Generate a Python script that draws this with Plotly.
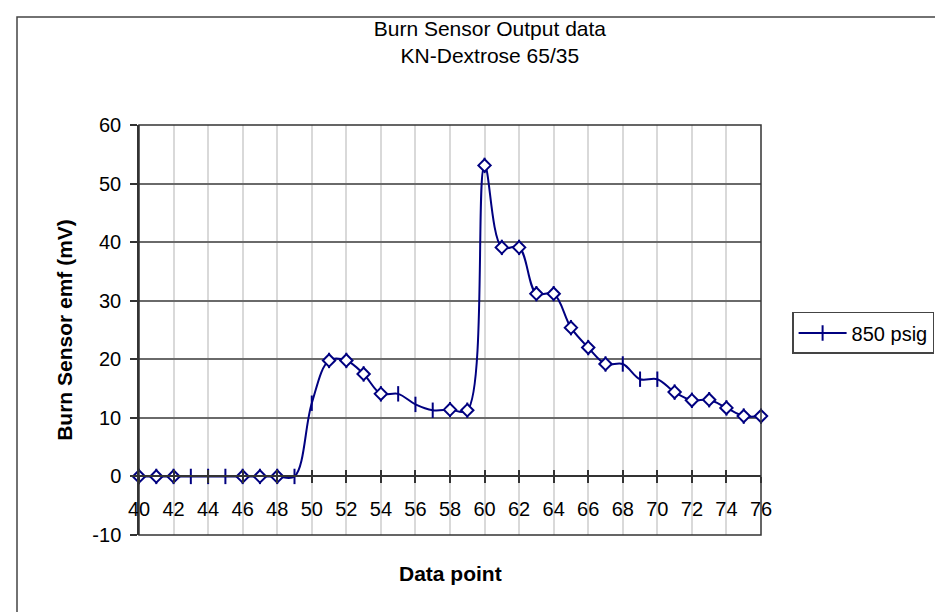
import plotly.graph_objects as go

# ---- data ----
data_point = list(range(40, 77))
emf_mv = [0, 0, 0, 0, 0, 0, 0, 0, 0, 0,
          12.5, 19.8, 19.8, 17.5, 14.1, 14.1, 12.3, 11.3, 11.4, 11.3,
          53.1, 39.1, 39.1, 31.2, 31.2, 25.4, 22.0, 19.2, 19.2, 16.6,
          16.6, 14.4, 13.0, 13.1, 11.7, 10.3, 10.3]
# marker style per point: D = open diamond, T = vertical tick
marker_kind = list("DDD" "TTT" "DDD" "TT" "DDDD" "TTT" "DDDDDDDDDD" "TTT" "DDDDDD")
series_name = "850 psig"
x_ticks = list(range(40, 77, 2))
y_ticks = list(range(-10, 61, 10))
y_tick_text = ["-10", "0", "10", "20", "30", "40", "50", "60"]

NAVY = "#000080"
FONT = "Liberation Sans, Arial, sans-serif"

diam_x = [x for x, k in zip(data_point, marker_kind) if k == "D"]
diam_y = [y for y, k in zip(emf_mv, marker_kind) if k == "D"]

fig = go.Figure()
fig.add_trace(go.Scatter(
    x=data_point, y=emf_mv, name=series_name, mode="lines+markers",
    line=dict(color=NAVY, width=2, shape="spline", smoothing=1),
    marker=dict(symbol="line-ns", size=11, color=NAVY,
                line=dict(color=NAVY, width=2)),
    cliponaxis=False,
))
fig.add_trace(go.Scatter(
    x=diam_x, y=diam_y, mode="markers", showlegend=False,
    marker=dict(symbol="diamond", size=9.5, color="white",
                line=dict(color=NAVY, width=2)),
    cliponaxis=False,
))
# invisible trace on the overlay axis (for the inner half of the cross ticks)
fig.add_trace(go.Scatter(x=[40, 76], y=[0, 0], xaxis="x2", mode="markers",
                         marker=dict(opacity=0), showlegend=False,
                         hoverinfo="skip"))

zero_pos = (0 - (-10)) / 70.0

fig.update_layout(
    width=943, height=612,
    margin=dict(l=131, r=190, t=117, b=85, autoexpand=False),
    paper_bgcolor="white", plot_bgcolor="white",
    font=dict(family=FONT, size=20, color="black"),
    title=dict(text="Burn Sensor Output data<br>KN-Dextrose 65/35",
               font=dict(family=FONT, size=21, color="black"),
               xref="container", x=0.511, xanchor="center",
               yref="container", y=0.955, yanchor="top"),
    xaxis=dict(range=[40, 76], tickmode="array", tickvals=x_ticks,
               ticktext=[str(v) for v in x_ticks],
               anchor="free", position=zero_pos,
               showline=True, linecolor="#333333", linewidth=1.5,
               ticks="outside", ticklen=6, tickwidth=1.5, tickcolor="#333333",
               showgrid=True, gridcolor="#d9d9d9", gridwidth=1.5,
               zeroline=False, ticklabelstandoff=9,
               tickfont=dict(family=FONT, size=20, color="black")),
    xaxis2=dict(range=[40, 76], tickmode="array", tickvals=x_ticks,
                overlaying="x", anchor="free", position=zero_pos,
                showline=False, showticklabels=False, showgrid=False,
                ticks="inside", ticklen=6, tickwidth=1.5, tickcolor="#333333",
                zeroline=False),
    yaxis=dict(range=[-10, 60], tickmode="array", tickvals=y_ticks,
               ticktext=y_tick_text,
               showline=True, linecolor="#333333", linewidth=1.5,
               ticks="outside", ticklen=7, tickwidth=1.5, tickcolor="#333333",
               showgrid=True, gridcolor="#6a6a6a", gridwidth=1.5,
               zeroline=False, ticklabelstandoff=5,
               title=dict(text="<b>Burn Sensor emf (mV)</b>",
                          font=dict(family=FONT, size=21, color="black"),
                          standoff=14),
               tickfont=dict(family=FONT, size=20, color="black")),
    legend=dict(x=1.05, y=0.544, xanchor="left", yanchor="top",
                bgcolor="white", bordercolor="#444444", borderwidth=1.5,
                itemwidth=48,
                font=dict(family=FONT, size=20, color="black")),
    showlegend=True,
    annotations=[dict(text="<b>Data point</b>", xref="paper", yref="paper",
                      x=0.5, y=(527 - 565) / 410.0, xanchor="center",
                      yanchor="middle", showarrow=False,
                      font=dict(family=FONT, size=21, color="black"))],
    shapes=[
        # plot-area border
        dict(type="rect", xref="paper", yref="paper", x0=0, x1=1, y0=0, y1=1,
             line=dict(color="#333333", width=1.5), layer="above"),
        # outer chart frame
        dict(type="rect", xref="paper", yref="paper",
             x0=(9 - 131) / 622.0, x1=(960 - 131) / 622.0,
             y0=(527 - 620) / 410.0, y1=(527 - 9) / 410.0,
             line=dict(color="#444444", width=1.5), layer="below"),
    ],
)

fig.write_html("out.html")
